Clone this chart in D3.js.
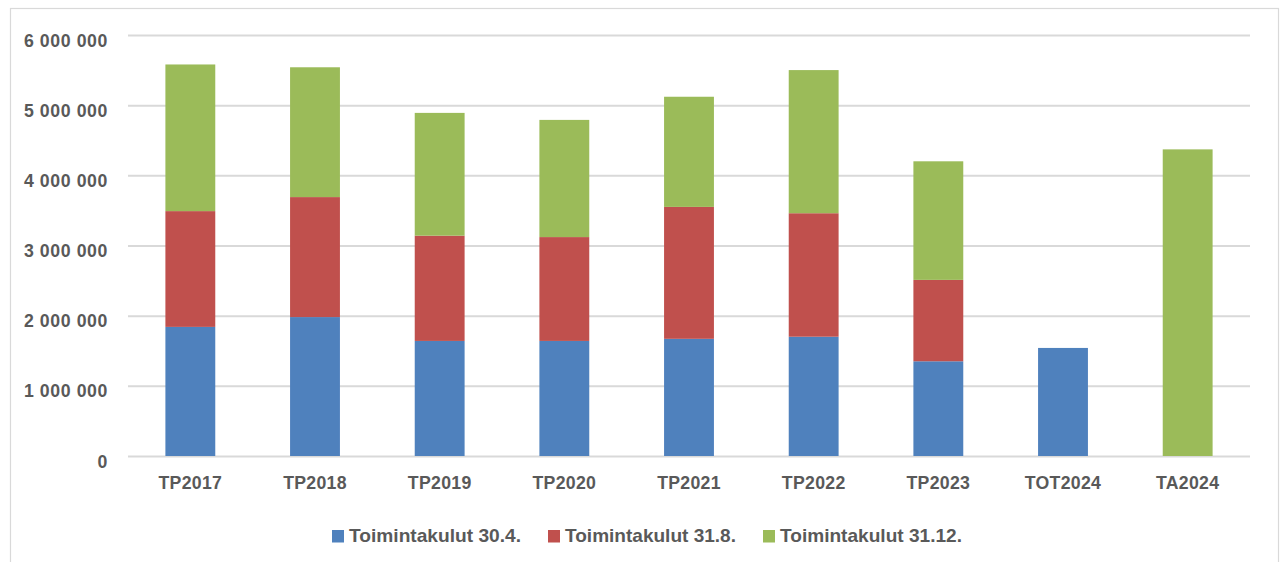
<!DOCTYPE html>
<html><head><meta charset="utf-8">
<script src="https://cdn.jsdelivr.net/npm/d3@7"></script>
<style>body{margin:0;background:#fff}svg{display:block}text{font-family:"Liberation Sans",Arial,sans-serif;font-weight:bold;fill:#595959}</style>
</head><body><svg id="c" width="1280" height="562"></svg>
<script>
const categories = ["TP2017","TP2018","TP2019","TP2020","TP2021","TP2022","TP2023","TOT2024","TA2024"];
const seriesNames = ["Toimintakulut 30.4.","Toimintakulut 31.8.","Toimintakulut 31.12."];
const s304 = [1840000,1980000,1640000,1640000,1670000,1700000,1350000,1540000,0];
const s318 = [1650000,1710000,1500000,1480000,1880000,1760000,1160000,0,0];
const s3112 = [2090000,1850000,1750000,1670000,1570000,2040000,1690000,0,4370000];
const yTicks = [0,1000000,2000000,3000000,4000000,5000000,6000000];
const colors = ["#4f81bd","#c0504d","#9bbb59"];

const svg = d3.select("#c");
svg.append("rect").attr("x",10.5).attr("y",8.5).attr("width",1268).attr("height",570).attr("fill","none").attr("stroke","#d9d9d9").attr("stroke-width",1.2);

const x = d3.scaleBand().domain(categories).range([128,1250]).paddingInner(0.6).paddingOuter(0.3);
const y = d3.scaleLinear().domain([0,6000000]).range([456,35]);

const fmt = v => d3.format(",")(v).replace(/,/g," ");
const yAxis = svg.append("g").attr("transform","translate(128,0)")
  .call(d3.axisLeft(y).tickValues(yTicks).tickSize(-1122).tickFormat(fmt));
yAxis.select(".domain").remove();
yAxis.selectAll("line").attr("stroke","#d9d9d9").attr("stroke-width",2);
yAxis.selectAll("text").attr("x",-20).attr("dy","11px").style("font-size","17.7px")
  .style("letter-spacing","0.6px").style("font-family","Liberation Sans, Arial, sans-serif").attr("fill","#595959");

const data = categories.map((c,i)=>({cat:c,a:s304[i],b:s318[i],c3:s3112[i]}));
const stack = d3.stack().keys(["a","b","c3"])(data);
svg.append("g").selectAll("g").data(stack).join("g").attr("fill",(d,i)=>colors[i])
  .selectAll("rect").data(d=>d).join("rect")
  .attr("x",d=>x(d.data.cat)).attr("width",x.bandwidth())
  .attr("y",d=>y(d[1])).attr("height",d=>y(d[0])-y(d[1]));

const xAxis = svg.append("g").attr("transform","translate(0,456)").call(d3.axisBottom(x).tickSize(0));
xAxis.select(".domain").remove();
xAxis.selectAll("text").attr("dy","0").attr("y",33).style("font-size","17.7px").style("letter-spacing","0.3px")
  .style("font-family","Liberation Sans, Arial, sans-serif").attr("fill","#595959");

const legX = [332,548,763];
const legW = [172,171,182];
const leg = svg.append("g").selectAll("g").data(seriesNames).join("g").attr("transform",(d,i)=>`translate(${legX[i]},536)`);
leg.append("rect").attr("x",0).attr("y",-6).attr("width",12).attr("height",12.5).attr("fill",(d,i)=>colors[i]);
leg.append("text").attr("x",17).attr("y",6.3).style("font-size","18.5px")
  .attr("textLength",(d,i)=>legW[i]).attr("lengthAdjust","spacingAndGlyphs").text(d=>d);
</script></body></html>
